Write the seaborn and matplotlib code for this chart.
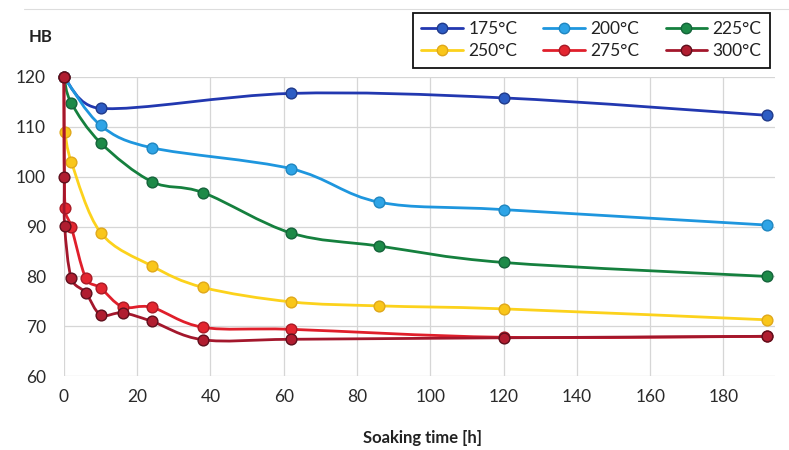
import numpy as np
import pandas as pd
import matplotlib
matplotlib.use("Agg")
import matplotlib.pyplot as plt
from matplotlib.path import Path
from matplotlib.patches import PathPatch
from matplotlib.lines import Line2D
import seaborn as sns

sns.set_theme(style="whitegrid")
plt.rcParams['font.family'] = ['Lato', 'DejaVu Sans']

# soaking time [h] and hardness HB for each temperature
labels = ["175°C", "200°C", "225°C", "250°C", "275°C", "300°C"]
t_175 = [0, 10, 62, 120, 192]
hb_175 = [120, 113.7, 116.7, 115.8, 112.3]
t_200 = [0, 10, 24, 62, 86, 120, 192]
hb_200 = [120, 110.3, 105.8, 101.6, 94.9, 93.4, 90.3]
t_225 = [0, 2, 10, 24, 38, 62, 86, 120, 192]
hb_225 = [120, 114.8, 106.8, 99.0, 96.8, 88.7, 86.1, 82.8, 80.0]
t_250 = [0.25, 2, 10, 24, 38, 62, 86, 120, 192]
hb_250 = [109, 103, 88.8, 82.1, 77.8, 74.9, 74.1, 73.5, 71.3]
t_275 = [0, 0.3, 2, 6, 10, 16, 24, 38, 62, 120, 192]
hb_275 = [120, 93.7, 90.0, 79.6, 77.7, 73.9, 73.8, 69.8, 69.4, 67.8, 68.0]
t_300 = [0, 0.1, 0.2, 2, 6, 10, 16, 24, 38, 62, 120, 192]
hb_300 = [120, 100, 90.2, 79.7, 76.7, 72.3, 72.7, 71.0, 67.3, 67.4, 67.7, 68.0]

times = [t_175, t_200, t_225, t_250, t_275, t_300]
values = [hb_175, hb_200, hb_225, hb_250, hb_275, hb_300]
line_colors = ["#2238b0", "#1e96de", "#15803e", "#fcd21c", "#e01f2b", "#a3172c"]
face_colors = ["#2c5cc4", "#2ea4e6", "#1d8a48", "#f9c61a", "#e32630", "#b01d30"]
edge_colors = ["#203a8a", "#1f86c0", "#14633a", "#e0a81a", "#a81a25", "#5e0f1c"]

XMAX, YMIN, YMAX = 194, 60, 120

fig = plt.figure(figsize=(7.89, 4.5), dpi=100)
ax = fig.add_axes([0.081, 0.164, 0.901, 0.665])
W, H = 0.901 * 789, 0.665 * 450
sx, sy = W / XMAX, H / (YMAX - YMIN)


def smooth_path(xs, ys):
    # Excel-like smoothed line: cubic Bezier through the points (pixel space)
    p = np.column_stack([np.asarray(xs) * sx, (np.asarray(ys) - YMIN) * sy])
    n = len(p)
    verts = [p[0]]
    codes = [Path.MOVETO]
    for i in range(n - 1):
        a = p[i - 1] if i > 0 else p[i]
        b, c = p[i], p[i + 1]
        d = p[i + 2] if i + 2 < n else p[i + 1]
        seg = np.linalg.norm(c - b)
        t1 = (c - a) / 6
        t2 = (d - b) / 6
        for t in (t1, t2):
            L = np.linalg.norm(t)
            if L > seg * 0.5:
                t *= seg * 0.5 / L
        verts += [b + t1, c - t2, c]
        codes += [Path.CURVE4] * 3
    v = np.array(verts)
    v[:, 0] /= sx
    v[:, 1] = v[:, 1] / sy + YMIN
    return Path(v, codes)


for i in range(len(labels)):
    patch = PathPatch(smooth_path(times[i], values[i]), facecolor="none",
                      edgecolor=line_colors[i], lw=2.0, zorder=3 + 2 * i,
                      clip_on=False, capstyle="round", joinstyle="round")
    ax.add_patch(patch)
    df = pd.DataFrame({"t": times[i], "hb": values[i]})
    sns.scatterplot(data=df, x="t", y="hb", ax=ax, s=60, color=face_colors[i],
                    edgecolor=edge_colors[i], linewidth=1.0, zorder=4 + 2 * i,
                    clip_on=False, legend=False)

ax.set_xlim(0, XMAX)
ax.set_ylim(YMIN, YMAX)
ax.set_xticks(range(0, 181, 20))
ax.set_yticks(range(60, 121, 10))
ax.set_xlabel("")
ax.set_ylabel("")
ax.tick_params(axis="both", labelsize=12.5, colors="#2a2a2a", length=0)
ax.tick_params(axis="x", pad=9)
ax.tick_params(axis="y", pad=13)
ax.grid(True, color="#d6d6d6", lw=0.9)
for s in ax.spines.values():
    s.set_visible(False)
ax.set_facecolor("white")

fig.text(0.051, 0.918, "HB", fontsize=12, fontweight="bold", color="#222222",
         ha="center", va="center")
fig.text(0.535, 0.027, "Soaking time [h]", fontsize=12, fontweight="bold",
         color="#222222", ha="center", va="center")
fig.add_artist(Line2D([0.03, 1.0], [0.98, 0.98], color="#dddddd", lw=0.8))

handles = [Line2D([0], [0], color=line_colors[i], lw=2.0, marker="o",
                  markersize=7.5, markerfacecolor=face_colors[i],
                  markeredgecolor=edge_colors[i]) for i in range(len(labels))]
# legend is filled row by row in the reference
order = [0, 3, 1, 4, 2, 5]
leg = fig.legend([handles[k] for k in order], [labels[k] for k in order],
                 ncol=3, loc="upper right",
                 bbox_to_anchor=(0.976, 0.972), fontsize=12.5, frameon=True,
                 fancybox=False, edgecolor="#111111", framealpha=1,
                 handlelength=2.4, columnspacing=1.5, handletextpad=0.3,
                 borderpad=0.5, labelspacing=0.35, borderaxespad=0)
leg.get_frame().set_linewidth(1.3)
for txt in leg.get_texts():
    txt.set_color("#222222")

fig.savefig("out.png", dpi=100, facecolor="white")
